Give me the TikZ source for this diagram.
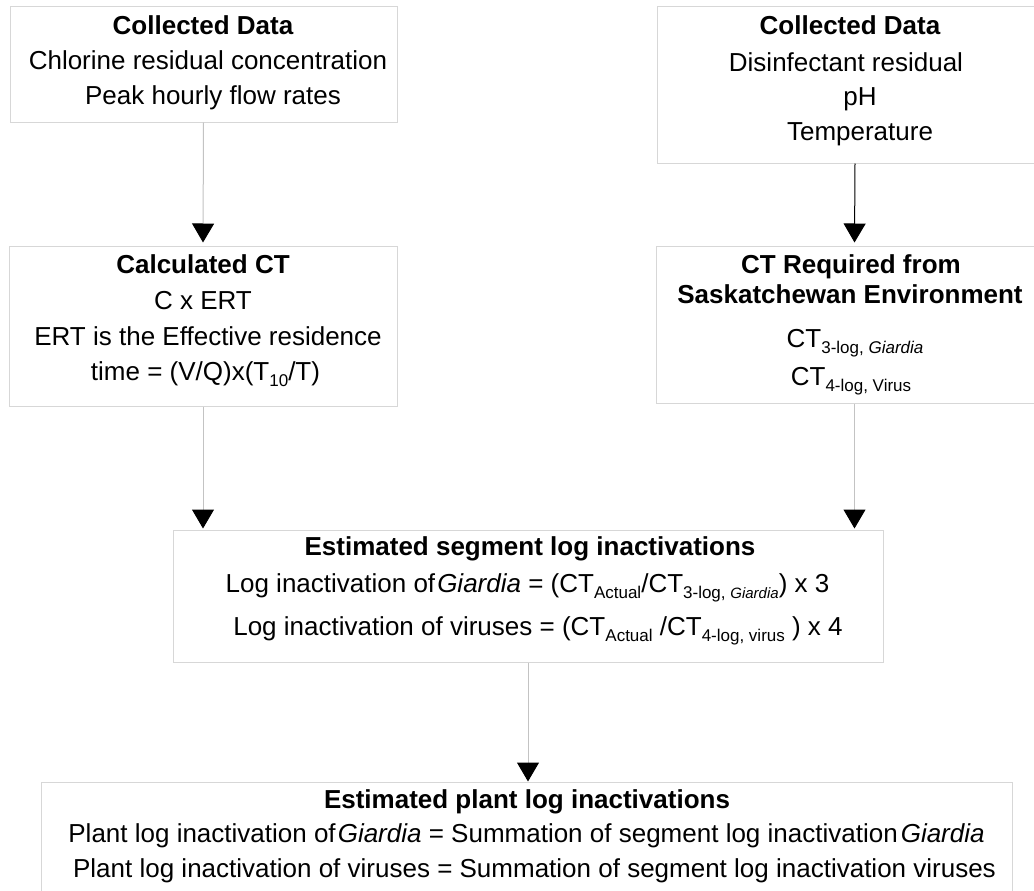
\documentclass[tikz,border=0pt]{standalone}
\usepackage{fontspec}
\setmainfont{Liberation Sans}
\usetikzlibrary{arrows.meta}
\newcommand{\subtxt}[1]{\raisebox{-6pt}{\fontsize{17}{17}\selectfont #1}}
\newcommand{\subsm}[1]{\raisebox{-6pt}{\fontsize{15}{15}\selectfont #1}}
\definecolor{boxgray}{RGB}{215,215,215}
\definecolor{linegray}{RGB}{195,195,195}
\begin{document}
\begin{tikzpicture}[x=1pt,y=-1pt,
  box/.style={draw=boxgray, line width=1pt, rectangle, inner sep=0pt, fill=white},
  txt/.style={anchor=base, inner sep=0pt, font=\fontsize{26}{30}\selectfont},
  ttl/.style={anchor=base, inner sep=0pt, font=\fontsize{26}{30}\selectfont\bfseries},
  conn/.style={draw=linegray, line width=1pt, -{Triangle[width=22pt,length=19pt,color=black,fill=black]}},
  connb/.style={draw=black, line width=1pt, -{Triangle[width=22pt,length=19pt,color=black,fill=black]}}
]
\useasboundingbox (0,0) rectangle (1034,891);
\clip (0,0) rectangle (1034,891);
\fill[white] (0,0) rectangle (1034,891);

% boxes
\node[box, minimum width=387pt, minimum height=115pt] (b1) at (203.5,64.5) {};
\node[box, minimum width=396pt, minimum height=156pt] (r1) at (855,85) {};
\node[box, minimum width=388pt, minimum height=160pt] (b2) at (203,326) {};
\node[box, minimum width=397pt, minimum height=157pt] (r2) at (854.5,324.5) {};
\node[box, minimum width=710pt, minimum height=132pt] (b3) at (528,596) {};
\node[box, minimum width=971pt, minimum height=130pt] (b4) at (526.5,847) {};

% texts box 1
\node[ttl] (t1a) at (203,35) {Collected Data};
\node[txt] (t1b) at (208,70) {Chlorine residual concentration};
\node[txt] (t1c) at (213,105) {Peak hourly flow rates};

% texts right box 1
\node[ttl] (r1a) at (850,35) {Collected Data};
\node[txt] (r1b) at (846,72) {Disinfectant residual};
\node[txt] (r1c) at (860,106) {pH};
\node[txt] (r1d) at (860,140) {Temperature};

% texts box 2
\node[ttl] (t2a) at (203,273) {Calculated CT};
\node[txt] (t2b) at (203,309) {C x ERT};
\node[txt] (t2c) at (208,345) {ERT is the Effective residence};
\node[txt] (t2d) at (205.5,380) {time = (V/Q)x(T\subtxt{10}/T)};

% texts right box 2
\node[ttl] (r2a) at (851,273) {CT Required from};
\node[ttl] (r2b) at (850,303) {Saskatchewan Environment};
\node[txt] (r2c) at (855,347) {CT\subtxt{3-log, \textit{Giardia}}};
\node[txt] (r2d) at (851,385) {CT\subtxt{4-log, Virus}};

% texts box 3
\node[ttl] (t3a) at (530,555) {Estimated segment log inactivations};
\node[txt] (t3b) at (527.5,592) {Log inactivation of\hspace{2pt}\textit{Giardia} = (CT\subtxt{Actual}/CT\subtxt{3-log, \fontsize{15}{15}\selectfont\textit{Giardia}}) x 3};
\node[txt] (t3c) at (538,635) {Log inactivation of viruses = (CT\subtxt{Actual} /CT\subtxt{4-log, virus} ) x 4};

% texts box 4
\node[ttl] (t4a) at (527,808) {Estimated plant log inactivations};
\node[txt] (t4b) at (526.5,842) {Plant log inactivation of\hspace{2pt}\textit{Giardia} = Summation of segment log inactivation\hspace{3pt}\textit{Giardia}};
\node[txt] (t4c) at (534.5,877) {Plant log inactivation of viruses = Summation of segment log inactivation viruses};

% connectors
\draw[conn, shorten >=3pt] (b1.south) -- (b2.north);
\draw[connb, shorten >=3pt] (r1.south) -- (r2.north);
\draw[conn, shorten >=1pt] (b2.south) -- (b2.south |- b3.north);
\draw[conn, shorten >=1pt] (r2.south) -- (r2.south |- b3.north);
\draw[conn, shorten >=0pt] (b3.south) -- (b3.south |- b4.north);
\end{tikzpicture}
\end{document}
